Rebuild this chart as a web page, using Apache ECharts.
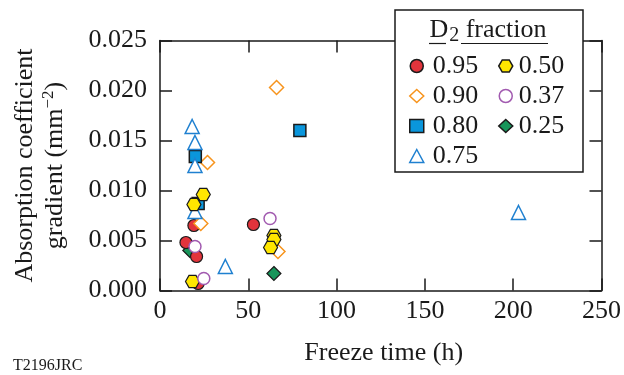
<!DOCTYPE html>
<html>
<head>
<meta charset="utf-8">
<script src="https://cdn.jsdelivr.net/npm/echarts@6/dist/echarts.min.js"></script>
<style>
  html, body { margin: 0; padding: 0; background: #fff; }
  #chart { width: 624px; height: 375px; }
</style>
</head>
<body>
<div id="chart"></div>
<script>
// Absorption coefficient gradient versus freeze time, grouped by D2 fraction.
// Each pair is [freeze time (h), gradient (mm^-2)].
const seriesNames = ['0.95', '0.90', '0.80', '0.75', '0.50', '0.37', '0.25'];

const frac095 = [[14.7, 0.0048], [19.2, 0.0065], [20.7, 0.0034], [21.6, 0.0007], [52.9, 0.0066]];
const frac090 = [[23.1, 0.0067], [26.9, 0.0128], [66.0, 0.0203], [66.8, 0.0039]];
const frac080 = [[20.0, 0.0134], [21.6, 0.0087], [79.2, 0.0160]];
const frac075 = [[18.2, 0.0164], [19.8, 0.0148], [19.8, 0.0125], [19.8, 0.0079], [37.0, 0.0024], [203.0, 0.0078]];
const frac050 = [[24.5, 0.0096], [19.2, 0.0086], [18.4, 0.0009], [64.5, 0.0055], [64.5, 0.0051], [62.6, 0.0043]];
const frac037 = [[19.8, 0.0044], [24.8, 0.0012], [62.3, 0.0072]];
const frac025 = [[16.9, 0.0040], [64.5, 0.0017]];

const xRange = { min: 0, max: 250, interval: 50 };
const yRange = { min: 0, max: 0.025, interval: 0.005 };

const FONT = 'Liberation Serif';
const INK = '#1a1a1a';
const HEX = 'path://M0,43.3 L25,0 L75,0 L100,43.3 L75,86.6 L25,86.6 Z';

const styles = {
  '0.95': { symbol: 'circle',   size: 12, fill: '#e2343c', stroke: '#1a1a1a', width: 1.2 },
  '0.90': { symbol: 'diamond',  size: 14, fill: '#ffffff', stroke: '#f7941d', width: 1.5 },
  '0.80': { symbol: 'rect',     size: 12, fill: '#0a96dc', stroke: '#1a1a1a', width: 1.5 },
  '0.75': { symbol: 'triangle', size: 14, fill: '#ffffff', stroke: '#1f80d0', width: 1.5 },
  '0.50': { symbol: HEX,        size: 14, fill: '#ffe600', stroke: '#1a1a1a', width: 1.2 },
  '0.37': { symbol: 'circle',   size: 12, fill: '#ffffff', stroke: '#a25bb0', width: 1.5 },
  '0.25': { symbol: 'diamond',  size: 14, fill: '#17955a', stroke: '#1a1a1a', width: 1.2 }
};
const seriesData = {
  '0.95': frac095, '0.90': frac090, '0.80': frac080, '0.75': frac075,
  '0.50': frac050, '0.37': frac037, '0.25': frac025
};

const series = seriesNames.map(function (name) {
  const s = styles[name];
  return {
    name: name,
    type: 'scatter',
    data: seriesData[name],
    symbol: s.symbol,
    symbolSize: s.size,
    symbolKeepAspect: true,
    z: name === '0.25' ? 1 : 2,
    itemStyle: { color: s.fill, borderColor: s.stroke, borderWidth: s.width, opacity: 1 },
    emphasis: { disabled: true },
    xAxisIndex: 0,
    yAxisIndex: 0
  };
});

const frameLine = { show: true, onZero: false, lineStyle: { color: INK, width: 1.5 } };
const innerTick = { show: true, inside: true, length: 12, lineStyle: { color: INK, width: 1.5 } };

function legendColumn(names, left, textGap) {
  return {
    data: names,
    orient: 'vertical',
    left: left,
    top: 53,
    padding: 0,
    itemWidth: 14,
    itemHeight: 13,
    itemGap: 4,
    selectedMode: false,
    textStyle: { fontFamily: FONT, fontSize: 26, color: INK, padding: [0, 0, 0, textGap] },
    itemStyle: { borderWidth: 1.5 },
    z: 6
  };
}

const chart = echarts.init(document.getElementById('chart'), null, { renderer: 'canvas' });
chart.setOption({
  animation: false,
  backgroundColor: '#ffffff',
  grid: { left: 160, top: 40.5, width: 443, height: 250, containLabel: false },
  xAxis: [
    {
      type: 'value', position: 'bottom', min: xRange.min, max: xRange.max, interval: xRange.interval,
      axisLine: frameLine, axisTick: innerTick, splitLine: { show: false },
      axisLabel: { margin: 8, fontFamily: FONT, fontSize: 26, color: INK },
      name: 'Freeze time (h)', nameLocation: 'middle', nameGap: 50,
      nameTextStyle: { fontFamily: FONT, fontSize: 26, color: INK, padding: [0, 0, 0, 6] }
    },
    {
      type: 'value', position: 'top', min: xRange.min, max: xRange.max, interval: xRange.interval,
      axisLine: frameLine, axisTick: innerTick, splitLine: { show: false }, axisLabel: { show: false }
    }
  ],
  yAxis: [
    {
      type: 'value', position: 'left', min: yRange.min, max: yRange.max, interval: yRange.interval,
      axisLine: frameLine, axisTick: innerTick, splitLine: { show: false },
      axisLabel: {
        margin: 13, fontFamily: FONT, fontSize: 26, color: INK,
        formatter: function (v) { return v.toFixed(3); }
      },
      name: '{a|Absorption coefficient}\n{a|gradient (mm}{s|−2}{a|)}',
      nameLocation: 'middle', nameRotate: 90, nameGap: 90,
      nameTextStyle: {
        fontFamily: FONT, fontSize: 26, color: INK, lineHeight: 30,
        rich: {
          a: { fontFamily: FONT, fontSize: 26, color: INK, lineHeight: 30 },
          s: { fontFamily: FONT, fontSize: 17, color: INK, verticalAlign: 'top' }
        }
      }
    },
    {
      type: 'value', position: 'right', min: yRange.min, max: yRange.max, interval: yRange.interval,
      axisLine: frameLine, axisTick: innerTick, splitLine: { show: false }, axisLabel: { show: false }
    }
  ],
  legend: [
    legendColumn(['0.95', '0.90', '0.80', '0.75'], 409, 4),
    legendColumn(['0.50', '0.37', '0.25'], 498, 1)
  ],
  graphic: {
    elements: [
      {
        type: 'rect', z: 3,
        shape: { x: 395, y: 10, width: 188, height: 162 },
        style: { fill: '#ffffff', stroke: INK, lineWidth: 1.5 }
      },
      {
        type: 'text', z: 5, x: 488, y: 30,
        style: {
          text: '{a|D}{b|2}{a| fraction}',
          align: 'center', verticalAlign: 'middle',
          rich: {
            a: { fontFamily: FONT, fontSize: 26, fill: INK },
            b: { fontFamily: FONT, fontSize: 20, fill: INK, padding: [12, 0, 0, 1] }
          }
        }
      },
      { type: 'line', z: 5, shape: { x1: 429, y1: 43.5, x2: 446, y2: 43.5 }, style: { stroke: INK, lineWidth: 1.2 } },
      { type: 'line', z: 5, shape: { x1: 461, y1: 43.5, x2: 548, y2: 43.5 }, style: { stroke: INK, lineWidth: 1.2 } },
      {
        type: 'text', z: 5, x: 13, y: 366,
        style: { text: 'T2196JRC', fontFamily: FONT, fontSize: 16, fill: INK, verticalAlign: 'middle' }
      }
    ]
  },
  series: series
});
</script>
</body>
</html>
